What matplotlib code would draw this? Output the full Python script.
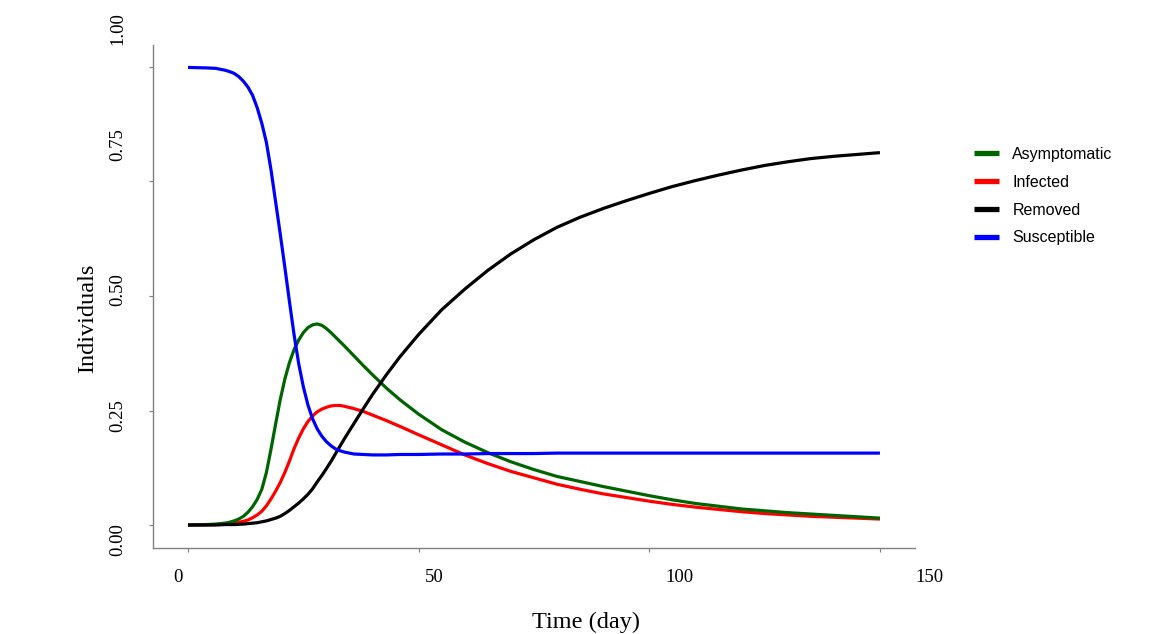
import matplotlib
matplotlib.use('Agg')
import matplotlib.pyplot as plt
from matplotlib.transforms import ScaledTranslation

# values (fraction of population per day)
days = [0, 4, 6, 8, 9, 10, 11, 12, 13, 14, 15, 16, 17, 18, 19, 20, 21, 22, 23, 24,
        25, 26, 27, 28, 29, 30, 31, 32, 33, 34, 36, 38, 40, 43, 46, 50, 55, 60, 65,
        70, 75, 80, 85, 90, 95, 100, 105, 110, 115, 120, 125, 130, 135, 140, 145, 150]

susceptible = [0.999, 0.998, 0.997, 0.993, 0.990, 0.986, 0.979, 0.969, 0.956, 0.938,
               0.911, 0.877, 0.835, 0.775, 0.705, 0.635, 0.562, 0.487, 0.415, 0.352,
               0.302, 0.262, 0.232, 0.210, 0.194, 0.182, 0.173, 0.166, 0.162, 0.159,
               0.155, 0.154, 0.153, 0.153, 0.154, 0.154, 0.155, 0.155, 0.156,
               0.156, 0.156, 0.157, 0.157, 0.157, 0.157, 0.157, 0.157, 0.157, 0.157,
               0.157, 0.157, 0.157, 0.157, 0.157, 0.157, 0.157]

asymptomatic = [0.0, 0.001, 0.002, 0.004, 0.006, 0.009, 0.013, 0.019, 0.028, 0.040,
                0.056, 0.078, 0.115, 0.166, 0.221, 0.274, 0.319, 0.355, 0.383, 0.404,
                0.420, 0.431, 0.437, 0.439, 0.436, 0.429, 0.420, 0.410, 0.400, 0.390,
                0.369, 0.348, 0.328, 0.299, 0.273, 0.242, 0.208, 0.181, 0.158,
                0.138, 0.121, 0.106, 0.095, 0.084, 0.074, 0.064, 0.055, 0.047, 0.041,
                0.035, 0.031, 0.027, 0.024, 0.021, 0.018, 0.015]

infected = [0.0, 0.0005, 0.001, 0.002, 0.003, 0.004, 0.006, 0.008, 0.011, 0.016,
            0.022, 0.030, 0.042, 0.057, 0.074, 0.093, 0.115, 0.140, 0.167, 0.190,
            0.210, 0.226, 0.238, 0.247, 0.253, 0.257, 0.260, 0.261, 0.261, 0.259,
            0.254, 0.248, 0.240, 0.228, 0.215, 0.197, 0.175, 0.153, 0.134,
            0.117, 0.103, 0.089, 0.078, 0.068, 0.060, 0.052, 0.045, 0.039, 0.034,
            0.029, 0.025, 0.022, 0.019, 0.017, 0.015, 0.013]

removed = [0.0, 0.0, 0.0, 0.001, 0.001, 0.001, 0.0015, 0.002, 0.003, 0.004,
           0.005, 0.007, 0.009, 0.012, 0.015, 0.019, 0.025, 0.032, 0.040, 0.048,
           0.057, 0.067, 0.079, 0.094, 0.108, 0.123, 0.139, 0.156, 0.173, 0.190,
           0.222, 0.254, 0.285, 0.328, 0.368, 0.416, 0.470, 0.515, 0.556,
           0.592, 0.623, 0.650, 0.672, 0.691, 0.708, 0.724, 0.739, 0.752, 0.764,
           0.775, 0.785, 0.793, 0.800, 0.805, 0.809, 0.813]

xticks = [0, 50, 100, 150]
yticks = [0.00, 0.25, 0.50, 0.75, 1.00]

# the labels in the source sit a bit off their tick marks (pixels)
xlabel_shift = [-10, 16, 30, 50]
ylabel_shift = [-15, -5, 6, 37, 38]

fig = plt.figure(figsize=(11.72, 6.34), dpi=100)
ax = fig.add_axes([153 / 1172, 1 - 548 / 634, 762 / 1172, 503 / 634])

line_kw = dict(lw=2.3, solid_joinstyle='round', solid_capstyle='butt')
ax.plot(days, infected, color='#ff0000', label='Infected', **line_kw)
ax.plot(days, asymptomatic, color='#006400', label='Asymptomatic', **line_kw)
ax.plot(days, removed, color='black', label='Removed', **line_kw)
ax.plot(days, susceptible, color='#0000ff', label='Susceptible', **line_kw)

ax.set_xlim(-7.59, 157.6)
ax.set_ylim(-0.0502, 1.048)

for side in ['top', 'right']:
    ax.spines[side].set_visible(False)
for side in ['left', 'bottom']:
    ax.spines[side].set_color('#808080')
    ax.spines[side].set_linewidth(1.0)

serif = 'Liberation Serif'
ax.set_xticks(xticks)
ax.set_xticklabels([str(v) for v in xticks], fontfamily=serif, fontsize=13.5)
ax.set_yticks(yticks)
ax.set_yticklabels(['%.2f' % v for v in yticks], fontfamily=serif, fontsize=13.5,
                   rotation=90, va='center')
ax.tick_params(axis='both', direction='out', length=3, width=0.8, color='#808080')
ax.tick_params(axis='x', pad=12)
ax.tick_params(axis='y', pad=16)

for tick, dx in zip(ax.xaxis.get_major_ticks(), xlabel_shift):
    lab = tick.label1
    lab.set_transform(lab.get_transform() + ScaledTranslation(dx / 100, 0, fig.dpi_scale_trans))
for tick, dy in zip(ax.yaxis.get_major_ticks(), ylabel_shift):
    lab = tick.label1
    lab.set_transform(lab.get_transform() + ScaledTranslation(0, dy / 100, fig.dpi_scale_trans))

ax.set_xlabel('Time (day)', fontfamily=serif, fontsize=17.5)
ax.xaxis.set_label_coords(0.568, -0.127)
ax.set_ylabel('Individuals', fontfamily=serif, fontsize=17.5)
ax.yaxis.set_label_coords(-0.072, 0.457)

# legend order as in the source
handles, labels = ax.get_legend_handles_labels()
order = ['Asymptomatic', 'Infected', 'Removed', 'Susceptible']
hmap = dict(zip(labels, handles))
leg = fig.legend([hmap[k] for k in order], order, loc='upper left',
                 bbox_to_anchor=(974 / 1172, 1 - 147 / 634), frameon=False,
                 prop={'family': 'Liberation Sans', 'size': 11.5},
                 handlelength=1.55, handletextpad=0.85, labelspacing=0.8,
                 borderpad=0, borderaxespad=0)
for h in leg.legend_handles:
    h.set_linewidth(3.8)
    h.set_solid_capstyle('butt')

fig.savefig('out.png', dpi=100)
